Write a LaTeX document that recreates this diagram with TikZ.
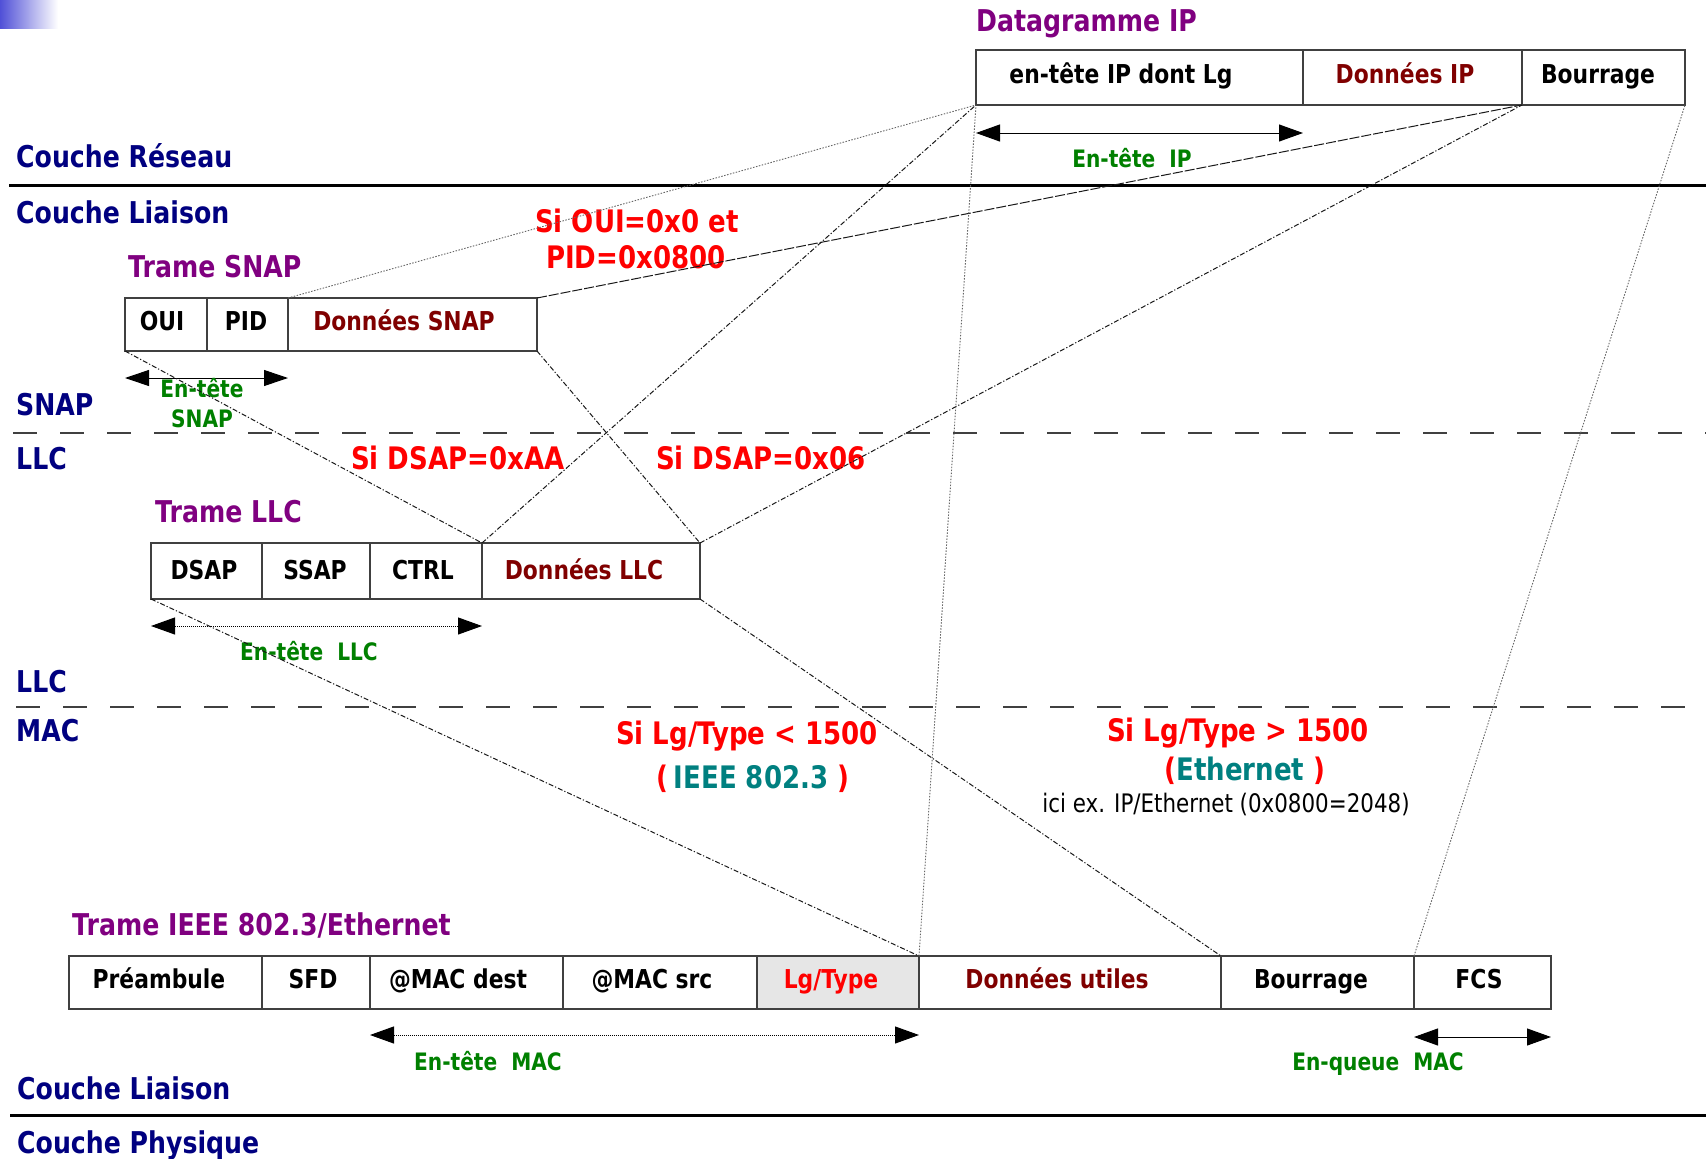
\documentclass[tikz,border=0pt]{standalone}
\usepackage{fontspec}
\newfontfamily\tah{DejaVu Sans}[FakeStretch=0.84]
\usetikzlibrary{arrows.meta}
\definecolor{navyb}{RGB}{0,0,128}
\definecolor{purp}{RGB}{128,0,128}
\definecolor{dred}{RGB}{128,0,0}
\definecolor{grn}{RGB}{0,128,0}
\definecolor{teal2}{RGB}{0,128,128}
\definecolor{lgrey}{RGB}{230,230,230}
\definecolor{corner}{RGB}{80,80,215}
\begin{document}
\begin{tikzpicture}[x=1pt,y=-1pt,
  bf/.style={font=\tah\bfseries\fontsize{#1}{#1}\selectfont},
  lay/.style={bf=30, text=navyb, anchor=base west, inner sep=0pt},
  ttl/.style={bf=30, text=purp, anchor=base west, inner sep=0pt},
  cond/.style={bf=31, text=red, anchor=base, inner sep=0pt},
  gl/.style={bf=24, text=grn, anchor=base, inner sep=0pt},
  ct/.style={bf=26, anchor=base, inner sep=0pt},
  cell/.style={draw=black!75, line width=1.1pt, inner sep=0pt, outer sep=0pt, anchor=north west},
  conn/.style={line width=1pt, draw=black!90},
  ddot/.style={conn, dash pattern=on 5pt off 2pt on 1.2pt off 2pt},
  fdot/.style={line width=0.9pt, draw=black!60, dash pattern=on 1.5pt off 1.5pt},
  sepl/.style={line width=3pt, draw=black},
  dsep/.style={line width=1.3pt, draw=black!75, dash pattern=on 24pt off 23pt},
  harr/.style={{Triangle[length=24pt,width=17pt]}-{Triangle[length=24pt,width=17pt]}, line width=1pt},
]
\fill[white] (0,0) rectangle (1706,1159);
\useasboundingbox (0,0) rectangle (1706,1159);
\shade[left color=corner, right color=white] (0,0) rectangle (58,28);

% layer separators
\coordinate (s1a) at (9,185);   \coordinate (s1b) at (1706,185);
\coordinate (s2a) at (13,433);  \coordinate (s2b) at (1706,433);
\coordinate (s3a) at (16,707);  \coordinate (s3b) at (1706,707);
\coordinate (s4a) at (10,1115); \coordinate (s4b) at (1706,1115);
\draw[sepl] (s1a) -- (s1b);
\draw[dsep] (s2a) -- (s2b);
\draw[dsep] (s3a) -- (s3b);
\draw[sepl] (s4a) -- (s4b);

% layer labels
\node[lay] (lres) at (16,167) {Couche Réseau};
\node[lay] (llia) at (16,223) {Couche Liaison};
\node[lay] (lsnap) at (16,415) {SNAP};
\node[lay] (lllc1) at (16,469) {LLC};
\node[lay] (lllc2) at (16,692) {LLC};
\node[lay] (lmac) at (16,741) {MAC};
\node[lay] (llia2) at (17,1099) {Couche Liaison};
\node[lay] (lphy) at (17,1153) {Couche Physique};

% IP datagram
\node[ttl] (tip) at (976,31) {Datagramme IP};
\node[cell, minimum width=327pt, minimum height=55pt] (ipA) at (976,50) {};
\node[cell, minimum width=219pt, minimum height=55pt] (ipB) at (1303,50) {};
\node[cell, minimum width=163pt, minimum height=55pt] (ipC) at (1522,50) {};
\node[ct] (ipAt) at (1121,83) {en-tête IP dont Lg};
\node[ct, text=dred] (ipBt) at (1405,83) {Données IP};
\node[ct] (ipCt) at (1598,83) {Bourrage};
\draw[harr] ([yshift=-28pt]ipA.south west) -- ([yshift=-28pt]ipA.south east);
\node[gl] (gip) at (1132,167) {En-tête\ \ IP};

% SNAP frame
\node[ttl] (tsnap) at (128,277) {Trame SNAP};
\node[cell, minimum width=82pt, minimum height=53pt] (snapA) at (125,298) {};
\node[cell, minimum width=81pt, minimum height=53pt] (snapB) at (207,298) {};
\node[cell, minimum width=249pt, minimum height=53pt] (snapC) at (288,298) {};
\node[ct] (snapAt) at (162,330) {OUI};
\node[ct] (snapBt) at (246,330) {PID};
\node[ct, text=dred] (snapCt) at (404,330) {Données SNAP};
\draw[harr, {Triangle[length=24pt,width=16pt]}-{Triangle[length=24pt,width=16pt]}] ([yshift=-27pt]snapA.south west) -- ([yshift=-27pt]snapB.south east);
\node[gl] (gsnap1) at (202,397) {En-tête};
\node[gl] (gsnap2) at (202,427) {SNAP};

% conditions
\node[cond] (c1a) at (637,232) {Si OUI=0x0 et};
\node[cond] (c1b) at (636,268) {PID=0x0800};
\node[cond, anchor=base west] (c2) at (351,469) {Si DSAP=0xAA};
\node[cond, anchor=base west] (c3) at (656,469) {Si DSAP=0x06};

% LLC frame
\node[ttl] (tllc) at (155,522) {Trame LLC};
\node[cell, minimum width=111pt, minimum height=56pt] (llcA) at (151,543) {};
\node[cell, minimum width=108pt, minimum height=56pt] (llcB) at (262,543) {};
\node[cell, minimum width=112pt, minimum height=56pt] (llcC) at (370,543) {};
\node[cell, minimum width=218pt, minimum height=56pt] (llcD) at (482,543) {};
\node[ct] (llcAt) at (204,579) {DSAP};
\node[ct] (llcBt) at (315,579) {SSAP};
\node[ct] (llcCt) at (423,579) {CTRL};
\node[ct, text=dred] (llcDt) at (584,579) {Données LLC};
\draw[harr, densely dotted] ([yshift=-27pt]llcA.south west) -- ([yshift=-27pt]llcC.south east);
\node[gl] (gllc) at (309,660) {En-tête\ \ LLC};

% MAC conditions
\node[cond] (c4) at (747,744) {Si Lg/Type < 1500};
\node[cond] (c5) at (753,788) {(\,\textcolor{teal2}{IEEE 802.3}\ )};
\node[cond] (c6) at (1238,741) {Si Lg/Type > 1500};
\node[cond] (c7) at (1245,780) {(\textcolor{teal2}{Ethernet}\ )};
\node[anchor=base, inner sep=0pt, font=\tah\fontsize{25.5}{25.5}\selectfont] (note) at (1226,812) {ici ex. IP/Ethernet (0x0800=2048)};

% Ethernet frame
\node[ttl] (teth) at (72,935) {Trame IEEE 802.3/Ethernet};
\node[cell, minimum width=193pt, minimum height=53pt] (e1) at (69,956) {};
\node[cell, minimum width=108pt, minimum height=53pt] (e2) at (262,956) {};
\node[cell, minimum width=193pt, minimum height=53pt] (e3) at (370,956) {};
\node[cell, minimum width=194pt, minimum height=53pt] (e4) at (563,956) {};
\node[cell, minimum width=162pt, minimum height=53pt, fill=lgrey] (e5) at (757,956) {};
\node[cell, minimum width=302pt, minimum height=53pt] (e6) at (919,956) {};
\node[cell, minimum width=193pt, minimum height=53pt] (e7) at (1221,956) {};
\node[cell, minimum width=137pt, minimum height=53pt] (e8) at (1414,956) {};
\node[ct] (e1t) at (159,988) {Préambule};
\node[ct] (e2t) at (313,988) {SFD};
\node[ct] (e3t) at (458,988) {@MAC dest};
\node[ct] (e4t) at (652,988) {@MAC src};
\node[ct, text=red] (e5t) at (831,988) {Lg/Type};
\node[ct, text=dred] (e6t) at (1057,988) {Données utiles};
\node[ct] (e7t) at (1311,988) {Bourrage};
\node[ct] (e8t) at (1479,988) {FCS};
\draw[harr, densely dotted] ([yshift=-26pt]e3.south west) -- ([yshift=-26pt]e5.south east);
\draw[harr] ([yshift=-28pt]e8.south west) -- ([yshift=-28pt]e8.south east);
\node[gl] (gmac) at (488,1070) {En-tête\ \ MAC};
\node[gl] (gfcs) at (1378,1070) {En-queue\ \ MAC};

% connectors between layers
\draw[fdot] (snapC.north west) -- (ipA.south west);
\draw[conn, dash pattern=on 10pt off 2pt] (snapC.north east) -- (ipC.south west);
\draw[ddot] (llcD.north west) -- (ipA.south west);
\draw[ddot] (llcD.north east) -- (ipC.south west);
\draw[fdot] (e5.north east) -- (ipA.south west);
\draw[fdot] (e8.north west) -- (ipC.south east);
\draw[ddot] (snapA.south west) -- (llcD.north west);
\draw[ddot] (snapC.south east) -- (llcD.north east);
\draw[ddot] (llcA.south west) -- (e5.north east);
\draw[ddot] (llcD.south east) -- (e7.north west);
\end{tikzpicture}
\end{document}
